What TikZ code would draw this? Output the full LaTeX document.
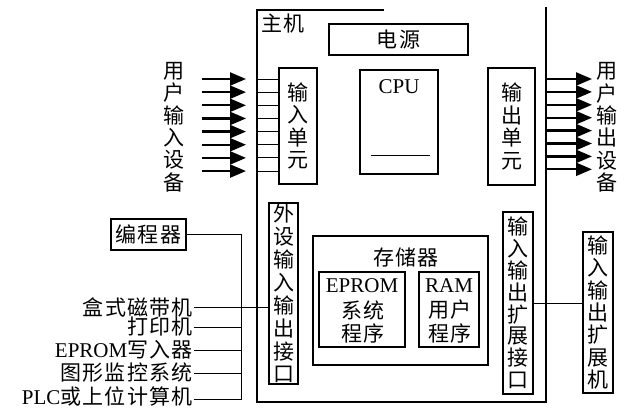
\documentclass[tikz,border=0pt]{standalone}
\usepackage{fontspec}
\setmainfont{Liberation Serif}
\newfontfamily\cjk{Noto Sans CJK SC}
\newfontfamily\cjks[LetterSpace=6]{Noto Sans CJK SC}
\usetikzlibrary{arrows.meta,calc}
\newcommand\zh[1]{{\cjks\fontsize{21}{23}\selectfont #1}}
\newcommand\la[1]{{\fontsize{21}{24}\selectfont #1}}
\begin{document}
\begin{tikzpicture}[x=1pt,y=-1pt,
 box/.style={draw, line width=1.1pt, inner sep=0pt, outer sep=0pt},
 vt/.style={font={\cjk\fontsize{21}{22.4}\selectfont}, align=center, inner sep=0pt},
 vtb/.style={font={\cjk\fontsize{21}{22.9}\selectfont}, align=center, inner sep=0pt},
 vtc/.style={font={\cjk\fontsize{21}{21.8}\selectfont}, align=center, inner sep=0pt},
 lbl/.style={anchor=east, inner sep=1pt},
 bigarrow/.style={line width=2.3pt, -{Triangle[length=16pt,width=13pt]}},
 thinline/.style={line width=1pt},
 hostline/.style={line width=1.4pt}]
\useasboundingbox[fill=white] (0,0) rectangle (629,408);

% host frame
\coordinate (hTR) at (384,10);
\coordinate (hTL) at (257,10);
\coordinate (hBL) at (257,402);
\coordinate (hBR) at (546,402);
\coordinate (hRT) at (546,7);
\draw[hostline] (hTR) -- (hTL) -- (hBL) -- (hBR) -- (hRT);
\node[inner sep=0pt] (hostlbl) at (283,24) {\zh{主机}};

% power
\node[box, minimum width=139pt, minimum height=31pt] (power) at (398.5,39.5) {\zh{电源}};

% CPU
\node[box, minimum width=78pt, minimum height=104pt] (cpu) at (399,122) {};
\node[inner sep=0pt] (cputxt) at (399,87) {\la{CPU}};
\draw[thinline] (cpu.south west) ++(11,-19) coordinate (cl1) -- ++(59,0) coordinate (cl2);

% input unit
\node[box, vt, minimum width=38pt, minimum height=116pt] (inunit) at (298,126) {输\\入\\单\\元};
% output unit
\node[box, vt, minimum width=47pt, minimum height=117pt] (outunit) at (511.5,126.5) {输\\出\\单\\元};

% user devices labels
\node[vt] (uin) at (174,127) {用\\户\\输\\入\\设\\备};
\node[vt] (uout) at (607,127.5) {用\\户\\输\\出\\设\\备};

% input arrows
\foreach \i [evaluate=\i as \yy using {79+13.15*\i}] in {0,...,7} {
  \coordinate (ia\i) at (202,\yy);
  \coordinate (ib\i) at (246,\yy);
  \draw[bigarrow] (ia\i) -- (ib\i);
  \draw[thinline] (hTL |- ib\i) -- (inunit.west |- ib\i);
}
% output arrows
\foreach \i [evaluate=\i as \yy using {79+12.9*\i}] in {0,...,7} {
  \coordinate (oa\i) at (546,\yy);
  \coordinate (ob\i) at (592,\yy);
  \draw[bigarrow] (oa\i) -- (ob\i);
}

% peripheral I/O interface
\node[box, vtb, minimum width=29pt, minimum height=181pt] (periph) at (283.5,293.5) {外\\设\\输\\入\\输\\出\\接\\口};

% memory
\node[box, minimum width=175pt, minimum height=129pt] (mem) at (400.5,300.5) {};
\node[inner sep=0pt] (memtxt) at (406,257) {\zh{存储器}};
\node[box, minimum width=86pt, minimum height=75pt] (eprom) at (362,309.5) {};
\node[inner sep=0pt] (epromtxt) at (362,286) {\la{EPROM}};
\node[inner sep=0pt] (eprom2) at (363,310) {\zh{系统}};
\node[inner sep=0pt] (eprom3) at (363,333) {\zh{程序}};
\node[box, minimum width=60pt, minimum height=75pt] (ram) at (449,309.5) {};
\node[inner sep=0pt] (ramtxt) at (449,286) {\la{RAM}};
\node[inner sep=0pt] (ram2) at (450,310) {\zh{用户}};
\node[inner sep=0pt] (ram3) at (450,333) {\zh{程序}};

% I/O expansion interface and expansion unit
\node[box, vtc, minimum width=30pt, minimum height=182pt] (ioexp) at (518,303) {输\\入\\输\\出\\扩\\展\\接\\口};
\node[box, vt, minimum width=30pt, minimum height=161pt] (expm) at (598,312.5) {输\\入\\输\\出\\扩\\展\\机};
\draw[thinline] (ioexp.east) -- (ioexp.east -| expm.west);

% programmer and peripherals
\node[box, minimum width=75pt, minimum height=31pt] (prog) at (148.5,234.5) {\zh{编程器}};
\node[lbl] (l1) at (194,307) {\zh{盒式磁带机}};
\node[lbl] (l2) at (194,327) {\zh{打印机}};
\node[lbl] (l3) at (194,350) {\la{EPROM}\zh{写入器}};
\node[lbl] (l4) at (194,373) {\zh{图形监控系统}};
\node[lbl] (l5) at (194,396.5) {\la{PLC}\zh{或上位计算机}};
\coordinate (bus) at (241,0);
\coordinate (busend) at (241,399);
\draw[thinline] (prog.east) -- (prog.east -| bus) -- (busend) -- (busend -| l5.east);
\draw[thinline] (l1.east) -- (l1.east -| periph.west);
\draw[thinline] (l2.east) -- (l2.east -| bus);
\draw[thinline] (l3.east) -- (l3.east -| bus);
\draw[thinline] (l4.east) -- (l4.east -| bus);
\end{tikzpicture}
\end{document}
